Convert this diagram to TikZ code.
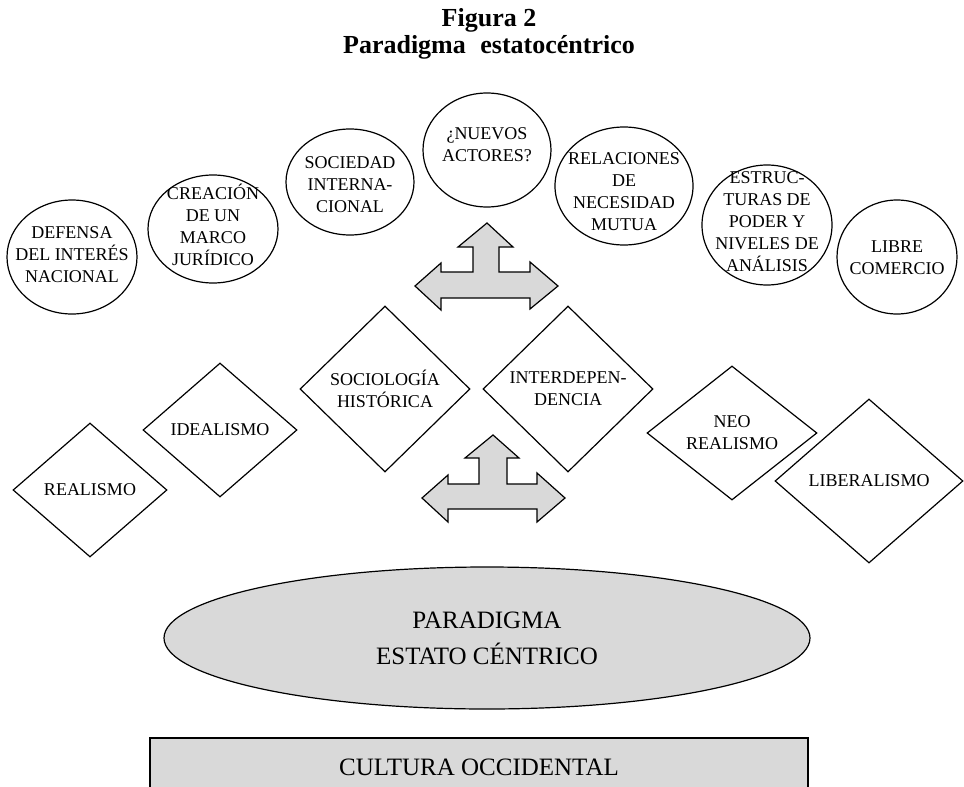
\documentclass[tikz,border=0pt]{standalone}
\usepackage{fontspec}
\setmainfont{Liberation Serif}
\usetikzlibrary{shapes.geometric}
\definecolor{gris}{RGB}{217,217,217}

\begin{document}
\begin{tikzpicture}[x=0.5pt,y=-0.5pt]
	\tikzstyle{burbuja} = [draw=black, ellipse, line width=0.6pt, inner sep=0]
	\tikzstyle{texto} = [align=center, inner sep=0, font=\fontsize{9}{11}\selectfont]
	\tikzstyle{rombo} = [draw=black, diamond, line width=0.6pt, inner sep=0, align=center, font=\fontsize{9}{11}\selectfont]
	\tikzstyle{flecha} = [draw=black, fill=gris, line width=0.6pt, line join=miter]
	\clip (0,0) rectangle (964,787);
		\node[align=center, font=\fontsize{13}{13.5}\selectfont\bfseries] (titulo) at (489,34) {Figura 2\\Paradigma\hspace{4pt} estatocéntrico};
		\node[burbuja, minimum width=65pt, minimum height=57pt] (defensa) at (72,257) {};
		\node[burbuja, minimum width=65pt, minimum height=54pt] (creacion) at (213,229) {};
		\node[burbuja, minimum width=64pt, minimum height=53pt] (sociedad) at (350,182) {};
		\node[burbuja, minimum width=64pt, minimum height=57pt] (nuevos) at (487,150) {};
		\node[burbuja, minimum width=69pt, minimum height=59pt] (relaciones) at (624,186) {};
		\node[burbuja, minimum width=65pt, minimum height=60pt] (estructuras) at (767,225) {};
		\node[burbuja, minimum width=60pt, minimum height=57pt] (libre) at (897,257) {};
		\node[texto] (defensa-t) at (72,255) {DEFENSA\\DEL INTERÉS\\NACIONAL};
		\node[texto] (creacion-t) at (213,225) {CREACIÓN\\DE UN\\MARCO\\JURÍDICO};
		\node[texto] (sociedad-t) at (350,185) {SOCIEDAD\\INTERNA-\\CIONAL};
		\node[texto] (nuevos-t) at (487,145) {¿NUEVOS\\ACTORES?};
		\node[texto] (relaciones-t) at (624,192) {RELACIONES\\DE\\NECESIDAD\\MUTUA};
		\node[texto] (estructuras-t) at (767,222) {ESTRUC-\\TURAS DE\\PODER Y\\NIVELES DE\\ANÁLISIS};
		\node[texto] (libre-t) at (897,258) {LIBRE\\COMERCIO};
		\node[rombo, minimum width=77pt, minimum height=67pt] (realismo) at (90,490) {REALISMO};
		\node[rombo, minimum width=77pt, minimum height=67pt] (idealismo) at (220,430) {IDEALISMO};
		\node[rombo, minimum width=85pt, minimum height=83pt] (sociologia) at (385,389) {SOCIOLOGÍA\\HISTÓRICA};
		\node[rombo, minimum width=85pt, minimum height=83pt] (interdep) at (568,389) {INTERDEPEN-\\DENCIA};
		\node[rombo, minimum width=85pt, minimum height=67pt] (neo) at (732,433) {NEO\\REALISMO};
		\node[rombo, minimum width=94pt, minimum height=82pt] (liberalismo) at (869,481) {LIBERALISMO};
	\filldraw[flecha] (487,223) -- (513,247) -- (499,247) -- (499,272) -- (530,272) -- (530,262)
		-- (558,286) -- (530,309) -- (530,298) -- (441,298) -- (441,310) -- (415,286)
		-- (441,263) -- (441,272) -- (473,272) -- (473,247) -- (458,247) -- cycle;
	\filldraw[flecha] (493,435) -- (519,458) -- (507,458) -- (507,484) -- (537,484) -- (537,473)
		-- (565,498) -- (537,522) -- (537,509) -- (448,509) -- (448,522) -- (422,498)
		-- (448,475) -- (448,484) -- (479,484) -- (479,458) -- (465,458) -- cycle;
		\node[draw=black, fill=gris, ellipse, line width=0.6pt, minimum width=323pt, minimum height=71pt, align=center, font=\fontsize{12.5}{18}\selectfont] (paradigma) at (487,638) {PARADIGMA\\ESTATO CÉNTRICO};
		\node[draw=black, fill=gris, line width=0.6pt, minimum width=329pt, minimum height=29pt, font=\fontsize{12.5}{15}\selectfont] (cultura) at (479,767) {CULTURA OCCIDENTAL};
\end{tikzpicture}
\end{document}
